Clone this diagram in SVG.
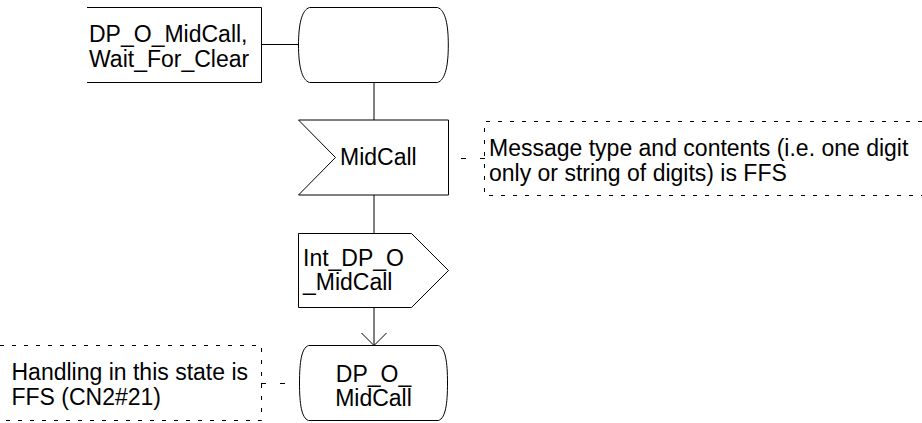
<svg xmlns="http://www.w3.org/2000/svg" width="922" height="423" viewBox="0 0 922 423">
<style>
.s{fill:#fff;stroke:#000;stroke-width:1}
.o{fill:none;stroke:#000;stroke-width:1}
.d{fill:none;stroke:#000;stroke-width:1;stroke-dasharray:4 8}
.c{fill:none;stroke:#000;stroke-width:1;stroke-dasharray:5 14}
text{font-family:"Liberation Sans",Arial,sans-serif;font-size:23px;fill:#000}
.m{text-anchor:middle}
</style>
<defs>
<marker id="arr" viewBox="0 0 14 26" refX="13" refY="13" markerWidth="14" markerHeight="26" markerUnits="userSpaceOnUse" orient="auto">
<path d="M0.5,0.5 L13,13 L0.5,25.5" fill="none" stroke="#000" stroke-width="1"/>
</marker>
</defs>
<rect width="922" height="423" fill="#fff"/>
<g id="connectors">
<line class="o" x1="261.5" y1="44.5" x2="298.5" y2="44.5"/>
<line class="o" x1="374" y1="82.5" x2="374" y2="120"/>
<line class="o" x1="374" y1="195" x2="374" y2="233.5"/>
<path class="o" d="M374,307.5 V345.5" marker-end="url(#arr)"/>
<line class="c" x1="461" y1="158.5" x2="485" y2="158.5"/>
<line class="c" x1="261" y1="383.5" x2="298" y2="383.5"/>
</g>
<g id="label-top">
<path class="o" d="M87,7.5 H261.5 V82.5 H87"/>
<text x="89" y="41.7">DP_O_MidCall,</text>
<text x="89" y="66.7">Wait_For_Clear</text>
</g>
<g id="state-top">
<path class="s" d="M309.5,7.5 H437.5 C445.5,10 448.3,25 448.3,45 C448.3,65 445.5,80 437.5,82.5 H309.5 C301.5,80 298.5,65 298.5,45 C298.5,25 301.5,10 309.5,7.5 Z"/>
</g>
<g id="input-midcall">
<path class="s" d="M298.5,120 H448.5 V195 H298.5 L335.5,157.5 Z"/>
<text x="340" y="165">MidCall</text>
</g>
<g id="note-message">
<path class="d" d="M922,121.5 H484.5 V195.5 H922"/>
<text x="489" y="156">Message type and contents (i.e. one digit</text>
<text x="489" y="180.5">only or string of digits) is FFS</text>
</g>
<g id="output-int">
<path class="s" d="M298.5,233.5 H411.5 L448.5,270.5 L411.5,307.5 H298.5 Z"/>
<text x="303" y="266">Int_DP_O</text>
<text x="303" y="290">_MidCall</text>
</g>
<g id="state-bottom">
<path class="s" d="M308.5,345.5 H438.5 C445.5,348 447.5,362 447.5,383 C447.5,404 445.5,418 438.5,420.5 H308.5 C301.5,418 299.5,404 299.5,383 C299.5,362 301.5,348 308.5,345.5 Z"/>
<text class="m" x="373.5" y="381.7">DP_O_</text>
<text class="m" x="373.5" y="406">MidCall</text>
</g>
<g id="note-handling">
<path class="d" d="M0,345.5 H261.5 V420.5 H0"/>
<text x="11.5" y="380">Handling in this state is</text>
<text x="11.5" y="404.5">FFS (CN2#21)</text>
</g>
</svg>
